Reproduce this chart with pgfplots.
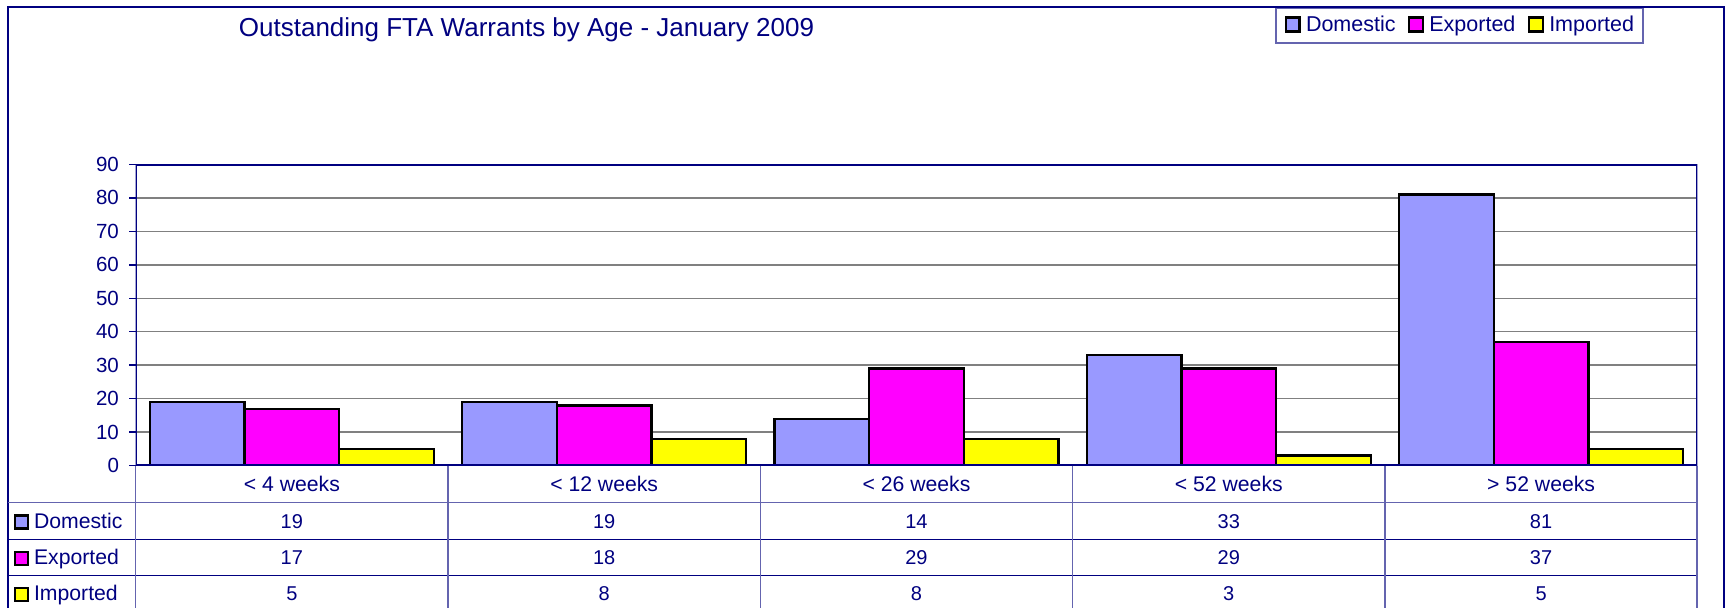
\documentclass[border=0pt]{standalone}
\usepackage{fontspec}
\setmainfont{Liberation Sans}
\usepackage{pgfplots}
\usepackage{pgfplotstable}
\pgfplotsset{compat=1.18}
\definecolor{navy}{RGB}{0,0,128}
\definecolor{slate}{RGB}{100,100,175}
\definecolor{gridgray}{RGB}{128,128,128}
\definecolor{dom}{RGB}{153,153,255}
\definecolor{expo}{RGB}{255,0,255}
\definecolor{impo}{RGB}{255,255,0}

\pgfplotstableread{
x dom exp imp
0 19 17 5
1 19 18 8
2 14 29 8
3 33 29 3
4 81 37 5
}\data

\begin{document}
\begin{tikzpicture}
\path[use as bounding box] (0pt,0pt) rectangle (865pt,-304pt);
\begin{axis}[
  at={(67.85pt,-232.85pt)}, anchor=south west,
  scale only axis, width=780.8pt, height=150.7pt,
  xmin=-0.5, xmax=4.5, ymin=0, ymax=90,
  ybar,
  ytick={0,10,...,90},
  ytick pos=left,
  xtick={0,...,4},
  xticklabels={{< 4 weeks},{< 12 weeks},{< 26 weeks},{< 52 weeks},{> 52 weeks}},
  axis line style={draw=none},
  ymajorgrids, grid style={gridgray, line width=0.75pt},
  tick align=outside, major tick length=3.35pt,
  ytick style={navy, line width=0.75pt},
  xtick style={draw=none},
  /pgf/number format/assume math mode=true,
  ticklabel style={font=\fontsize{10.25}{12}\selectfont, text=navy},
  yticklabel style={anchor=east, inner sep=0pt, xshift=-4.85pt},
  xticklabel style={anchor=base, yshift=-9.55pt, font=\fontsize{10.6}{12}\selectfont},
  legend columns=-1,
  legend style={at={(0.7296,1.5219)}, anchor=north west,
    draw=slate, line width=0.75pt, fill=white,
    font=\fontsize{10.75}{12}\selectfont, text=navy,
    inner xsep=4.4pt, inner ysep=2.2pt,
    nodes={inner xsep=0pt, inner ysep=2pt},
    /tikz/every odd column/.append style={column sep=2.6pt},
    /tikz/every even column/.append style={column sep=6.2pt}},
  legend image code/.code={\draw[#1, line width=1.2pt] (0.2pt,-3.1pt) rectangle (7.1pt,3.9pt);},
]
\addplot[fill=dom, draw=black, line width=1.2pt, bar width=0.303, bar shift=-0.303] table[x=x,y=dom]{\data};
\addplot[fill=expo, draw=black, line width=1.2pt, bar width=0.303, bar shift=0] table[x=x,y=exp]{\data};
\addplot[fill=impo, draw=black, line width=1.2pt, bar width=0.303, bar shift=0.303] table[x=x,y=imp]{\data};
\legend{Domestic,Exported,Imported}
\draw[navy, line width=1.25pt] (rel axis cs:0,0) rectangle (rel axis cs:1,1);
\end{axis}
\begin{scope}[x=0.5pt,y=-0.5pt]
\draw[navy, line width=0.75pt] (8,608) -- (8,7) -- (1724,7) -- (1724,608);
\node[anchor=base, text=navy, font=\fontsize{13}{15}\selectfont, inner sep=0pt] at (526.5,37) {Outstanding FTA Warrants by Age - January 2009};
\draw[slate, line width=0.75pt] (8,502.7) -- (1697.3,502.7);
\draw[navy, line width=0.75pt] (8,539.3) -- (1697.3,539.3) (8,575.3) -- (1697.3,575.3);
\foreach \k in {0,...,5} \draw[slate, line width=0.75pt] ({135.7+312.3*\k},465.7) -- ({135.7+312.3*\k},608);
% row headers
\foreach \name/\col/\yy in {Domestic/dom/521, Exported/expo/557.3, Imported/impo/593.5} {
  \draw[black, line width=1.2pt, fill=\col] (15.2,{\yy-5.3}) rectangle (28,{\yy+7.5});
  \node[anchor=base west, inner sep=0pt, text=navy, font=\fontsize{10.6}{12}\selectfont] at (33.7,{\yy+7.3}) {\name};
}
% cell values
\foreach \c/\yy in {dom/521, exp/557.3, imp/593.5} {
  \foreach \i in {0,...,4} {
    \pgfplotstablegetelem{\i}{\c}\of\data
    \node[anchor=base, inner sep=0pt, text=navy, font=\fontsize{10}{12}\selectfont] at ({291.85+312.3*\i},{\yy+7.3}) {\pgfplotsretval};
  }
}
\end{scope}
\end{tikzpicture}
\end{document}
